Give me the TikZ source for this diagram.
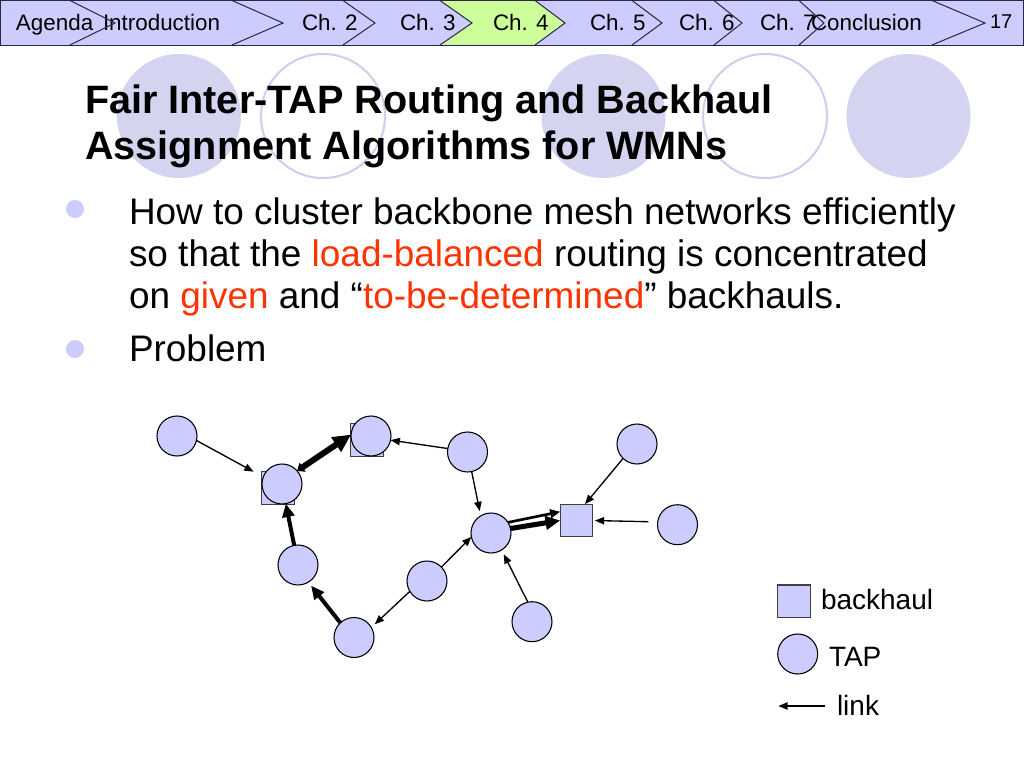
\documentclass[tikz,border=0pt]{standalone}
\usepackage{fontspec}
\setmainfont{Liberation Sans}
\usetikzlibrary{arrows.meta}
\definecolor{lav}{RGB}{204,204,255}
\definecolor{lgreen}{RGB}{204,255,153}
\definecolor{deco}{RGB}{212,212,240}
\definecolor{decoline}{RGB}{206,206,238}
\definecolor{hred}{RGB}{255,51,0}
\definecolor{hline}{RGB}{40,40,70}
\begin{document}
\begin{tikzpicture}[x=0.75pt,y=-0.75pt,
  tap/.style={circle,draw=black,fill=lav,line width=0.8pt,minimum size=30pt,inner sep=0pt,outer sep=0pt},
  bh/.style={rectangle,draw=black!75,fill=lav,line width=0.8pt,minimum size=24.5pt,inner sep=0pt,outer sep=0pt},
  txt/.style={anchor=base west,inner sep=0pt,outer sep=0pt},
  hdr/.style={txt,font=\fontsize{16.8pt}{20pt}\selectfont},
  ttl/.style={txt,font=\fontsize{29.7pt}{35pt}\selectfont\bfseries},
  body/.style={txt,font=\fontsize{27.7pt}{33pt}\selectfont},
  leg/.style={txt,font=\fontsize{21pt}{25pt}\selectfont},
  chev/.style={draw=hline,line width=0.75pt},
  thinarrow/.style={line width=1pt,-{Triangle[length=7pt,width=5.5pt]}},
  thickarrow/.style={line width=3pt,-{Triangle[length=10pt,width=9pt]}},
  dot/.style={circle,fill=lav,minimum size=13.5pt,inner sep=0pt}
]
\useasboundingbox (0,0) rectangle (1024,768);
\fill[white] (0,0) rectangle (1024,768);

% header bar
\draw[fill=lav,draw=hline,line width=0.75pt] (0.5,0.5) rectangle (1023.5,45);
\fill[lgreen] (440,0.9) -- (535,0.9) -- (565,23) -- (535,44.6) -- (440,44.6) -- (472,23) -- cycle;
\node[hdr] (hA) at (16,30.7) {Agenda};
\node[hdr] (hI) at (103,30.7) {Introduction};
\node[hdr] (h2) at (302,30.7) {Ch. 2};
\node[hdr] (h3) at (400,30.7) {Ch. 3};
\node[hdr] (h4) at (493,30.7) {Ch. 4};
\node[hdr] (h5) at (590,30.7) {Ch. 5};
\node[hdr] (h6) at (679,30.7) {Ch. 6};
\node[hdr] (h7) at (760,30.7) {Ch. 7};
\node[hdr] (hC) at (811,30.7) {Conclusion};
\node[txt,font=\fontsize{15pt}{18pt}\selectfont] (pg) at (990,28.3) {17};
\foreach \a/\b in {70/115,232/283,343/375,440/472,535/565,632/662,714/742,799/824,932/985}
  \draw[chev] (\a,0.5) -- (\b,23) -- (\a,45);
\draw[draw=hline,line width=0.75pt] (0.5,0.5) rectangle (1023.5,45);

% decorative circles
\fill[deco] (179,116) circle[radius=62];
\draw[decoline,line width=1.5pt] (323,116) circle[radius=62];
\fill[deco] (603.5,116) circle[radius=62];
\draw[decoline,line width=1.5pt] (765,116) circle[radius=62];
\fill[deco] (908.5,116) circle[radius=62];

% title
\node[ttl] (t1) at (85,113.3) {Fair Inter-TAP Routing and Backhaul};
\node[ttl] (t2) at (85,159.3) {Assignment Algorithms for WMNs};

% bullets
\node[dot] (d1) at (75,209) {};
\node[dot] (d2) at (75,349) {};
\node[body] (b1) at (129,224.3) {How to cluster backbone mesh networks efficiently};
\node[body] (b2) at (129,266.3) {so that the \textcolor{hred}{load-balanced} routing is concentrated};
\node[body] (b3) at (129,308.3) {on \textcolor{hred}{given} and “\textcolor{hred}{to-be-determined}” backhauls.};
\node[body] (b4) at (129,361.7) {Problem};

% graph
\node[bh] (B1) at (278,488) {};
\node[tap] (N2) at (282,484) {};
\node[bh] (B2) at (367,440) {};
\node[tap] (N3) at (371,436) {};
\node[bh] (B3) at (576.5,520.5) {};
\node[tap] (N1) at (177,436) {};
\node[tap] (N4) at (467.5,452) {};
\node[tap] (N5) at (491,533) {};
\node[tap] (N6) at (427,581) {};
\node[tap] (N7) at (298,565) {};
\node[tap] (N8) at (354,637.5) {};
\node[tap] (N9) at (637,444) {};
\node[tap] (N10) at (677.5,524.7) {};
\node[tap] (N11) at (532,621.7) {};

\draw[thinarrow] (N1.-13) -- ([xshift=-6pt]B1.north west);
\draw[thinarrow] (N4.170) -- (N3.-12);
\draw[thinarrow,shorten >=3.6pt] (N4.-78) -- (N5.121);
\draw[thinarrow] (N6.44) -- (N5.-169);
\draw[thinarrow,shorten >=3.5pt] (N6.-149) -- (N8.30);
\draw[thinarrow] (N9.-134) -- ([xshift=6.4pt]B3.north);
\draw[thinarrow,shorten <=7pt,shorten >=1.5pt] (N10.172) -- (B3.east);
\draw[thinarrow,shorten >=3.6pt] (N11.102) -- (N5.-58);

\draw[thickarrow,shorten >=3.4pt] (N8.133) -- (N7.-59);
\draw[thickarrow] (N7.101) -- (N2.-79);
\draw[line width=4.5pt,{Triangle[length=5pt,width=8pt]}-{Triangle[length=13.5pt,width=12.5pt]}] (N2.41) -- (N3.176);
\draw[line width=2pt,-{Triangle[length=7.5pt,width=6.5pt]}] (N5.32) -- ([yshift=6.6pt]B3.west);
\draw[line width=3.8pt,-{Triangle[length=11pt,width=10pt]}] (N5.13) -- (B3.west);

% legend
\node[bh] (LB) at (794,601.3) {};
\node[leg] (LBt) at (821,609.3) {backhaul};
\node[tap] (LT) at (797.7,654) {};
\node[leg] (LTt) at (829,666.7) {TAP};
\coordinate (lk1) at (825,706);
\coordinate (lk2) at (778.3,706);
\draw[thinarrow] (lk1) -- (lk2);
\node[leg] (LLt) at (837,715) {link};
\end{tikzpicture}
\end{document}
